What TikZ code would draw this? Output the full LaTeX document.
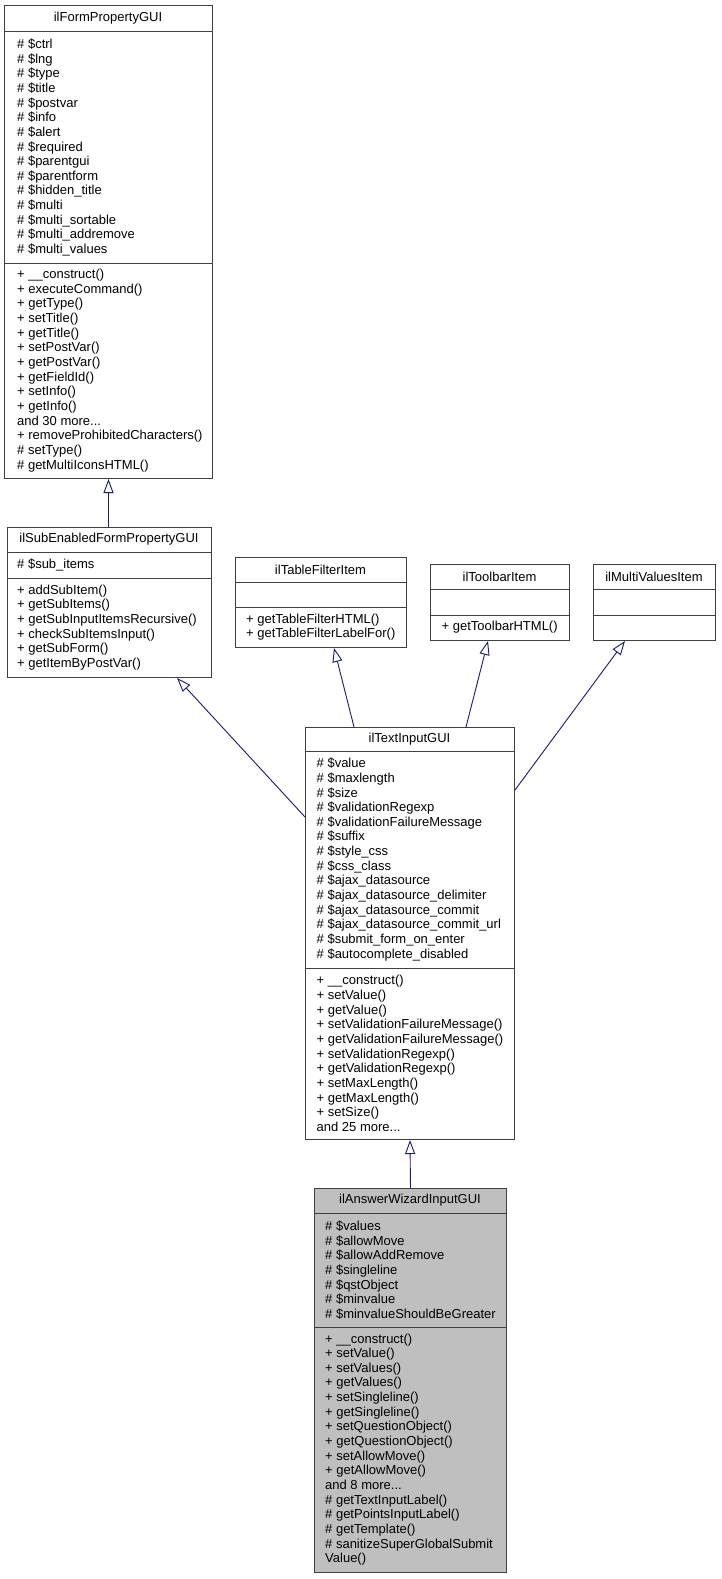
\documentclass[tikz,border=0pt]{standalone}
\usepackage{fontspec}
\setmainfont{Liberation Sans}
\usetikzlibrary{arrows.meta}
\definecolor{edgeblue}{HTML}{191970}
\definecolor{boxline}{HTML}{404040}
\definecolor{curfill}{HTML}{BFBFBF}

\begin{document}
\begin{tikzpicture}[x=1pt, y=-1pt,
  classbox/.style={draw=boxline, line width=1pt, anchor=north west, inner sep=0pt},
  title/.style={font=\fontsize{13}{14.65}\selectfont, inner sep=0pt},
  members/.style={font=\fontsize{13}{14.65}\selectfont, align=left, anchor=west, inner sep=0pt},
  inherit/.style={draw=edgeblue, line width=0.9pt,
    -{Triangle[open, length=14pt, width=10pt, fill=white]}}]

\useasboundingbox (0,0) rectangle (721,1579);

% ilFormPropertyGUI
\node[classbox, minimum width=208pt, minimum height=473pt] (fp) at (4,5) {};
\draw[boxline, line width=1pt] (4,32) -- (212,32);
\draw[boxline, line width=1pt] (4,263) -- (212,263);
\node[title] (fp-t) at (108,18.5) {ilFormPropertyGUI};
\node[members] (fp-a) at (17,147.5) {\# \$ctrl\\ \# \$lng\\ \# \$type\\ \# \$title\\
  \# \$postvar\\ \# \$info\\ \# \$alert\\ \# \$required\\ \# \$parentgui\\
  \# \$parentform\\ \# \$hidden\_title\\ \# \$multi\\ \# \$multi\_sortable\\
  \# \$multi\_addremove\\ \# \$multi\_values};
\node[members] (fp-m) at (17,370.5) {+ \_\_construct()\\ + executeCommand()\\
  + getType()\\ + setTitle()\\ + getTitle()\\ + setPostVar()\\ + getPostVar()\\
  + getFieldId()\\ + setInfo()\\ + getInfo()\\ and 30 more...\\
  + removeProhibitedCharacters()\\ \# setType()\\ \# getMultiIconsHTML()};

% ilSubEnabledFormPropertyGUI
\node[classbox, minimum width=204pt, minimum height=150pt] (sefp) at (7,527) {};
\draw[boxline, line width=1pt] (7,552) -- (211,552);
\draw[boxline, line width=1pt] (7,578) -- (211,578);
\node[title] (sefp-t) at (109,539.5) {ilSubEnabledFormPropertyGUI};
\node[members] (sefp-a) at (17,565) {\# \$sub\_items};
\node[members] (sefp-m) at (17,627.5) {+ addSubItem()\\ + getSubItems()\\
  + getSubInputItemsRecursive()\\ + checkSubItemsInput()\\ + getSubForm()\\
  + getItemByPostVar()};

% ilTableFilterItem
\node[classbox, minimum width=171pt, minimum height=90pt] (tfi) at (235,557) {};
\draw[boxline, line width=1pt] (235,582) -- (406,582);
\draw[boxline, line width=1pt] (235,607) -- (406,607);
\node[title] (tfi-t) at (320.5,569.5) {ilTableFilterItem};
\node[members] (tfi-m) at (246,627) {+ getTableFilterHTML()\\ + getTableFilterLabelFor()};

% ilToolbarItem
\node[classbox, minimum width=139pt, minimum height=76pt] (tbi) at (430,564) {};
\draw[boxline, line width=1pt] (430,589) -- (569,589);
\draw[boxline, line width=1pt] (430,615) -- (569,615);
\node[title] (tbi-t) at (499.5,576.5) {ilToolbarItem};
\node[members] (tbi-m) at (441.5,627.5) {+ getToolbarHTML()};

% ilMultiValuesItem
\node[classbox, minimum width=122pt, minimum height=76pt] (mvi) at (593,564) {};
\draw[boxline, line width=1pt] (593,589) -- (715,589);
\draw[boxline, line width=1pt] (593,615) -- (715,615);
\node[title] (mvi-t) at (654,576.5) {ilMultiValuesItem};

% ilTextInputGUI
\node[classbox, minimum width=209pt, minimum height=412pt] (tig) at (305,727) {};
\draw[boxline, line width=1pt] (305,751) -- (514,751);
\draw[boxline, line width=1pt] (305,968) -- (514,968);
\node[title] (tig-t) at (409.5,739) {ilTextInputGUI};
\node[members] (tig-a) at (316.5,859.5) {\# \$value\\ \# \$maxlength\\ \# \$size\\
  \# \$validationRegexp\\ \# \$validationFailureMessage\\ \# \$suffix\\
  \# \$style\_css\\ \# \$css\_class\\ \# \$ajax\_datasource\\
  \# \$ajax\_datasource\_delimiter\\ \# \$ajax\_datasource\_commit\\
  \# \$ajax\_datasource\_commit\_url\\ \# \$submit\_form\_on\_enter\\
  \# \$autocomplete\_disabled};
\node[members] (tig-m) at (316.5,1053.5) {+ \_\_construct()\\ + setValue()\\
  + getValue()\\ + setValidationFailureMessage()\\ + getValidationFailureMessage()\\
  + setValidationRegexp()\\ + getValidationRegexp()\\ + setMaxLength()\\
  + getMaxLength()\\ + setSize()\\ and 25 more...};

% ilAnswerWizardInputGUI
\node[classbox, fill=curfill, minimum width=192pt, minimum height=384pt] (aw) at (314,1188) {};
\draw[boxline, line width=1pt] (314,1213) -- (506,1213);
\draw[boxline, line width=1pt] (314,1327) -- (506,1327);
\node[title] (aw-t) at (410,1200.5) {ilAnswerWizardInputGUI};
\node[members] (aw-a) at (325,1270) {\# \$values\\ \# \$allowMove\\
  \# \$allowAddRemove\\ \# \$singleline\\ \# \$qstObject\\ \# \$minvalue\\
  \# \$minvalueShouldBeGreater};
\node[members] (aw-m) at (325,1449.5) {+ \_\_construct()\\ + setValue()\\
  + setValues()\\ + getValues()\\ + setSingleline()\\ + getSingleline()\\
  + setQuestionObject()\\ + getQuestionObject()\\ + setAllowMove()\\
  + getAllowMove()\\ and 8 more...\\ \# getTextInputLabel()\\
  \# getPointsInputLabel()\\ \# getTemplate()\\ \# sanitizeSuperGlobalSubmit\\
  Value()};

% Inheritance
\draw[inherit] (fp.south |- sefp.north) -- (fp.south);
\draw[inherit] (tig.west |- 0,817) -- (sefp.south -| 177,0);
\draw[inherit] (tig.north -| 354,0) -- (tfi.south -| 334,0);
\draw[inherit] (tig.north -| 466,0) -- (tbi.south -| 488,0);
\draw[inherit] (tig.east |- 0,790) -- (mvi.south -| 625,0);
\draw[inherit] (aw.north) -- (tig.south);

\end{tikzpicture}
\end{document}
